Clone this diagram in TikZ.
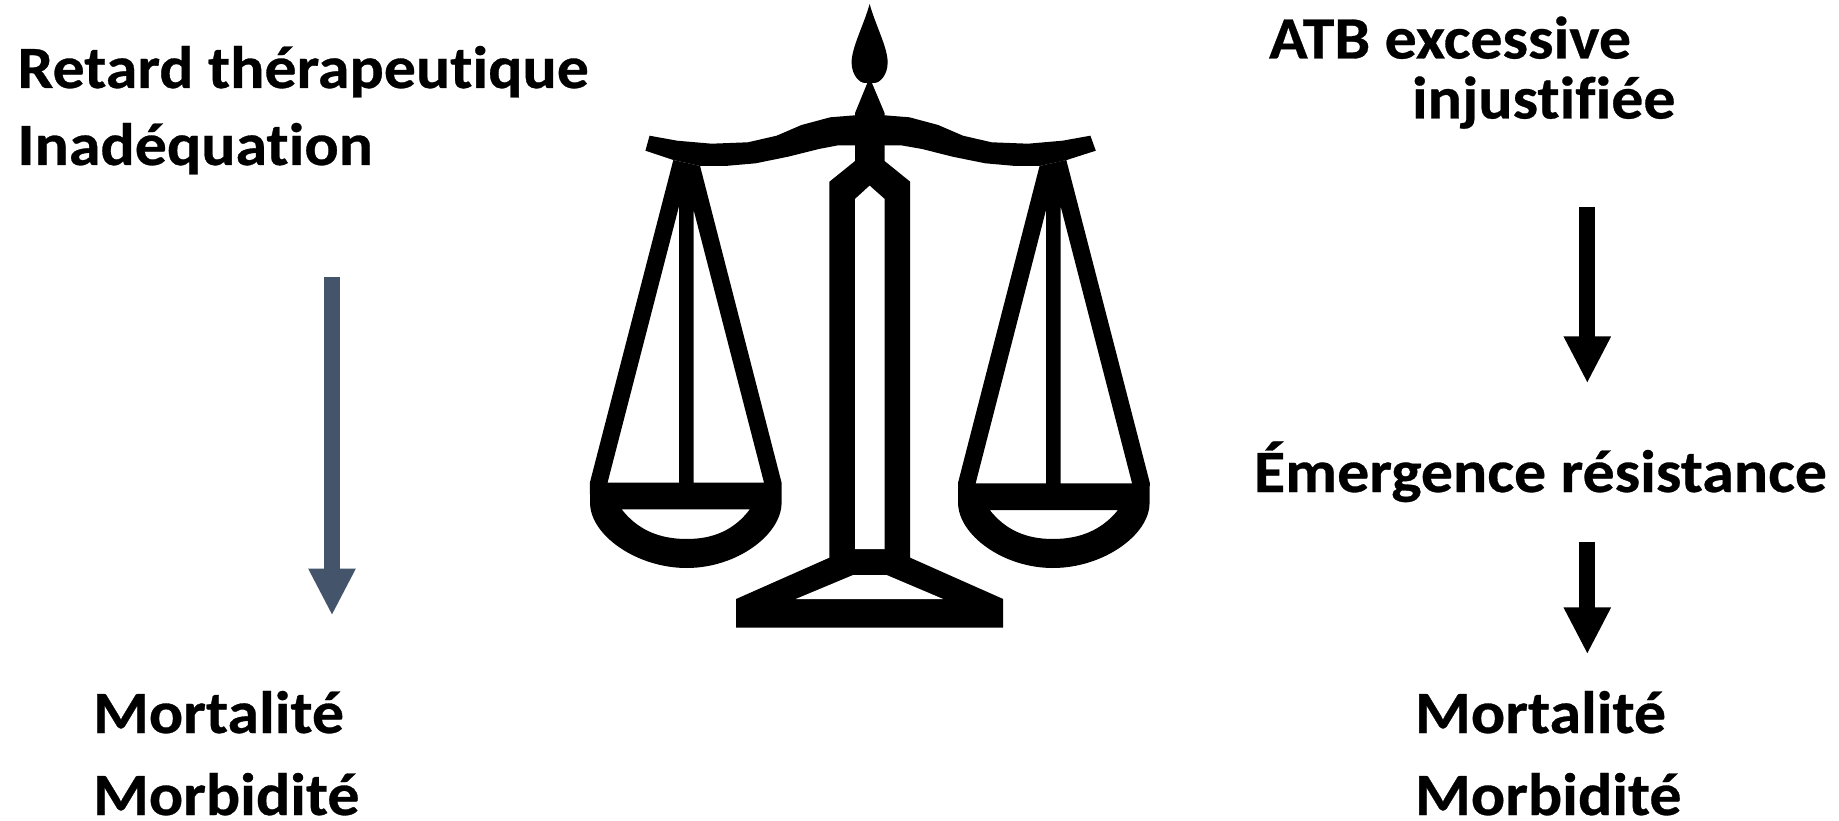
\documentclass[tikz,border=0pt]{standalone}
\usepackage{fontspec}
\setmainfont[FakeStretch=1.065,Ligatures=NoCommon,BoldFeatures={FakeBold=0.5}]{Carlito}
\usetikzlibrary{arrows.meta}
\definecolor{slate}{HTML}{44546A}
\tikzset{
  lab/.style={font=\fontsize{60}{64}\selectfont\bfseries,anchor=base west,inner sep=0pt,outer sep=0pt,text=black},
  blockarrow/.style={line width=16pt,-{Triangle[length=47pt,width=44pt]},draw=#1},
}
\newcommand{\panside}[1]{%
  \fill[black,even odd rule]
    (660,160) -- (683.3,166) -- (754.3,482.7) -- (754.3,503) .. controls (754,535) and (715,568) .. (671.7,568) .. controls (628,568) and (587.5,535) .. (587.5,503) -- (587.3,482.7) -- cycle
    (665,206) -- (665,482.7+#1) -- (602.7,482.7+#1) -- cycle
    (677.7,210) -- (739,482.7+#1) -- (677.7,482.7+#1) -- cycle
    (615,509.3+#1) -- (726.7,509.3+#1) .. controls (713,530) and (695,539) .. (671.7,539) .. controls (648,539) and (629,530) .. (615,509.3+#1) -- cycle;
}
\begin{document}
\begin{tikzpicture}[x=1pt,y=-1pt]
\useasboundingbox (0,0) rectangle (1839,821);
\fill[white] (0,0) rectangle (1839,821);
\begin{scope}[shift={(570,0)},xscale=1.148,shift={(-570,0)}]
% finial, column, base
\fill[black] (831,4) .. controls (826,25) and (815,48) .. (815.3,63) .. controls (815.5,75) and (822,83) .. (827,83) -- (829,83) -- (818.3,113) -- (818.3,161) -- (796,181.7) -- (796,557.7) -- (714.7,599) -- (714.7,627.7) -- (947.3,627.7) -- (947.3,599) -- (866.3,557.7) -- (866.3,181.7) -- (844,161) -- (844,113) -- (833,83) -- (835,83) .. controls (840,83) and (846.5,75) .. (846.7,63) .. controls (847,48) and (836,25) .. (831,4) -- cycle;
\fill[white] (818.3,199) -- (818.3,549) -- (844,549) -- (844,199) -- (831,185.7) -- cycle
  (816.7,575) -- (766.7,599) -- (895,599) -- (845.7,575) -- cycle;
% beam
\fill[black] (639.3,135.7) -- (663.3,140.7) -- (693.3,143.7) -- (725,142.3) -- (750,135.7) -- (771.7,125) -- (796.7,117.3) -- (818.3,115.3) -- (844,115.3) -- (865.7,117.3) -- (890.7,125) -- (912.3,135.7) -- (937.3,142.3) -- (969,143.7) -- (999,140.7) -- (1023.3,135.7) -- (1028,150.7) -- (1002.7,160) -- (979,166) -- (958.3,166) -- (931.7,163.3) -- (903.3,156.7) -- (876.7,149) -- (858.3,145.3) -- (803.7,145.3) -- (786.7,149) -- (760,156.7) -- (731.7,163.3) -- (705,166) -- (683.3,166) -- (660,160) -- (635.7,150.7) -- cycle;
% pans
\panside{0}
\begin{scope}[shift={(1662.33,0)},xscale=-1]
\panside{0.7}
\end{scope}
\end{scope}
% texts
\node[lab] (t1) at (17.5,88) {Retard thérapeutique};
\node[lab] (t2) at (17.5,165) {Inadéquation};
\node[lab] (m1) at (93,733) {Mortalité};
\node[lab] (m2) at (93,815) {Morbidité};
\node[lab] (r1) at (1269,58.5) {ATB excessive};
\node[lab] (r2) at (1412,118.5) {injustifiée};
\node[lab] (r3) at (1254,492) {Émergence résistance};
\node[lab] (m3) at (1415,733) {Mortalité};
\node[lab] (m4) at (1415,815) {Morbidité};
% arrows
\coordinate (a1) at (332,277);
\coordinate (a2) at (332,615.5);
\coordinate (b1) at (1587.3,206.7);
\coordinate (b2) at (1587.3,383.3);
\coordinate (c1) at (1587.3,541.7);
\coordinate (c2) at (1587.3,654.3);
\draw[blockarrow=slate] (a1) -- (a2);
\draw[blockarrow=black] (b1) -- (b2);
\draw[blockarrow=black] (c1) -- (c2);
\end{tikzpicture}
\end{document}
